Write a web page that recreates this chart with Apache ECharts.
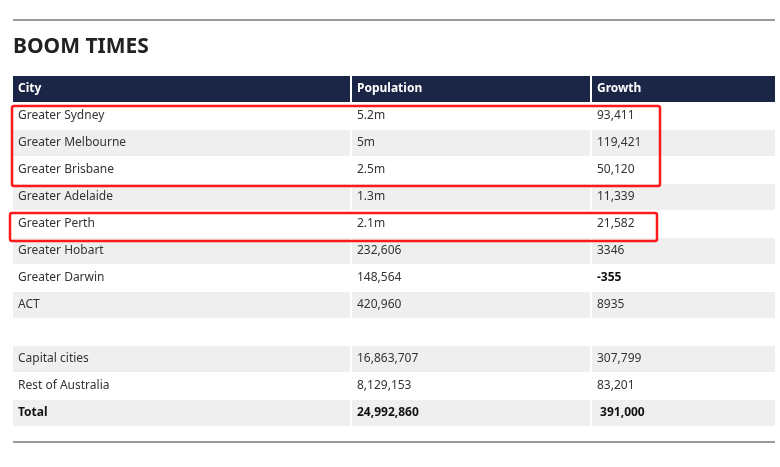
<!DOCTYPE html>
<html>
<head>
<meta charset="utf-8">
<script src="https://cdn.jsdelivr.net/npm/echarts@6/dist/echarts.min.js"></script>
<style>html,body{margin:0;padding:0;background:#fff}#main{width:780px;height:467px}</style>
</head>
<body>
<div id="main"></div>
<script>
let el = document.getElementById('main');
let myChart = echarts.init(el);

const header = ['City', 'Population', 'Growth'];
const rows = [
    ['Greater Sydney', '5.2m', '93,411'],
    ['Greater Melbourne', '5m', '119,421'],
    ['Greater Brisbane', '2.5m', '50,120'],
    ['Greater Adelaide', '1.3m', '11,339'],
    ['Greater Perth', '2.1m', '21,582'],
    ['Greater Hobart', '232,606', '3346'],
    ['Greater Darwin', '148,564', '-355', 'boldGrowth'],
    ['ACT', '420,960', '8935'],
    null,
    ['Capital cities', '16,863,707', '307,799'],
    ['Rest of Australia', '8,129,153', '83,201'],
    ['Total', '24,992,860', ' 391,000', 'bold']
];
const cols = [[13, 337], [352, 238], [592, 183]];
const font = '"Noto Sans", sans-serif';
const rowTop = 103, rowH = 27;

let els = [];
els.push({type: 'rect', shape: {x: 13, y: 19, width: 762, height: 2}, style: {fill: '#9a9a9a'}});
els.push({type: 'rect', shape: {x: 13, y: 441, width: 762, height: 2}, style: {fill: '#9a9a9a'}});
els.push({type: 'text', x: 13, y: 47, style: {text: 'BOOM TIMES', font: 'bold 21px ' + font, fill: '#222', verticalAlign: 'middle'}});

cols.forEach((c, i) => {
    els.push({type: 'rect', shape: {x: c[0], y: 76, width: c[1], height: 26}, style: {fill: '#1b2647'}});
    els.push({type: 'text', x: c[0] + 5, y: 89, style: {text: header[i], font: 'bold 12px ' + font, fill: '#fff', verticalAlign: 'middle'}});
});

rows.forEach((r, k) => {
    let y = rowTop + k * rowH;
    let fill = k % 2 === 1 ? '#efefef' : '#ffffff';
    cols.forEach((c, i) => {
        els.push({type: 'rect', shape: {x: c[0], y: y, width: c[1], height: rowH - 1}, style: {fill: fill}});
        if (!r) return;
        let bold = r[3] === 'bold' || (r[3] === 'boldGrowth' && i === 2);
        els.push({type: 'text', x: c[0] + 5, y: y + 13, style: {text: r[i], font: (bold ? 'bold ' : '') + '12px ' + font, fill: bold ? '#111' : '#333', verticalAlign: 'middle'}});
    });
});

// highlight boxes
const boxes = [[12, 106, 648, 80], [10, 213, 647, 28]];
boxes.forEach(b => {
    els.push({type: 'rect', shape: {x: b[0], y: b[1], width: b[2], height: b[3], r: 2}, style: {fill: 'none', stroke: '#ff1a1a', lineWidth: 2.5}, z: 10});
});

myChart.setOption({graphic: {elements: els}});
</script>
</body>
</html>
